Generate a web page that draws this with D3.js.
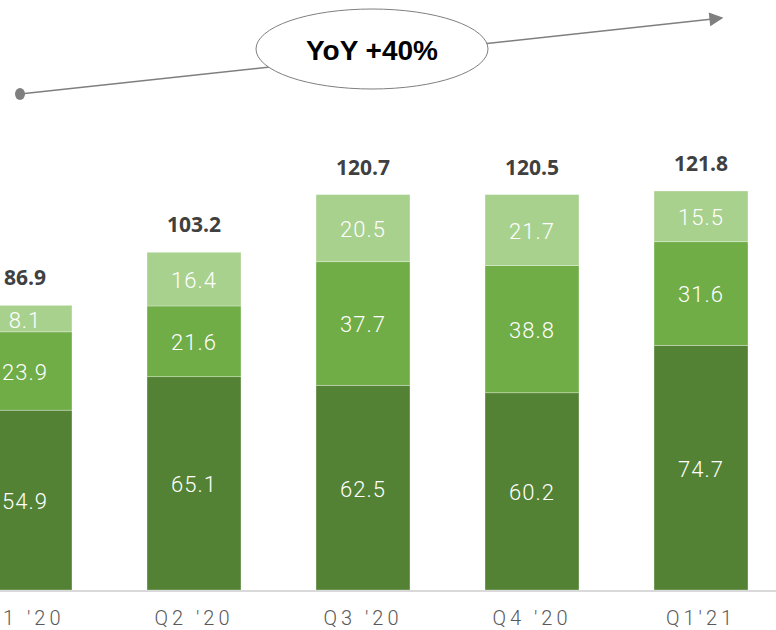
<!DOCTYPE html>
<html>
<head>
<meta charset="utf-8">
<script src="https://cdn.jsdelivr.net/npm/d3@7"></script>
<style>
  body { margin: 0; background: #fff; }
  svg { display: block; }
</style>
</head>
<body>
<div id="chart"></div>
<script>
// chart data
var categories = ["Q1 '20", "Q2 '20", "Q3 '20", "Q4 '20", "Q1'21"];
var bottomValues = [54.9, 65.1, 62.5, 60.2, 74.7];
var middleValues = [23.9, 21.6, 37.7, 38.8, 31.6];
var topValues = [8.1, 16.4, 20.5, 21.7, 15.5];
var totals = [86.9, 103.2, 120.7, 120.5, 121.8];
var yoyLabel = 'YoY +40%';

var width = 776;
var height = 630;
var baseline = 590;
var colors = ['#548235', '#70ad47', '#a9d18e'];

var svg = d3.select('#chart').append('svg')
    .attr('width', width)
    .attr('height', height);

var x = d3.scaleBand()
    .domain(categories)
    .range([-59.5, 785.5])
    .paddingInner(0.444)
    .paddingOuter(0.222);

var y = d3.scaleLinear()
    .domain([0, 121.8])
    .range([baseline, 191]);

var rows = categories.map(function(c, i) {
    return { cat: c, b: bottomValues[i], m: middleValues[i], t: topValues[i] };
});

var stack = d3.stack().keys(['b', 'm', 't']);
var series = stack(rows);

var layers = svg.append('g').selectAll('g')
    .data(series)
    .enter()
    .append('g')
    .attr('fill', function(d, i) { return colors[i]; });

layers.selectAll('rect')
    .data(function(d) { return d; })
    .enter()
    .append('rect')
    .attr('x', function(d) { return x(d.data.cat); })
    .attr('y', function(d) { return y(d[1]); })
    .attr('width', x.bandwidth())
    .attr('height', function(d) { return y(d[0]) - y(d[1]); })
    .style('stroke', '#ffffff')
    .style('stroke-width', 0.6)
    .style('stroke-opacity', 0.5);

// segment value labels
layers.selectAll('text')
    .data(function(d) { return d; })
    .enter()
    .append('text')
    .attr('x', function(d) { return x(d.data.cat) + x.bandwidth() / 2; })
    .attr('y', function(d) { return (y(d[0]) + y(d[1])) / 2 + 1; })
    .attr('dy', '0.36em')
    .attr('text-anchor', 'middle')
    .style('font-family', 'Roboto, sans-serif')
    .style('font-weight', 300)
    .style('font-size', '22px')
    .style('letter-spacing', '1px')
    .style('fill', '#ffffff')
    .text(function(d) { return (d[1] - d[0]).toFixed(1); });

// totals
svg.append('g').selectAll('text')
    .data(totals)
    .enter()
    .append('text')
    .attr('x', function(d, i) { return x(categories[i]) + x.bandwidth() / 2; })
    .attr('y', function(d) { return y(d) - 20; })
    .attr('text-anchor', 'middle')
    .style('font-family', '"Open Sans", sans-serif')
    .style('font-weight', 700)
    .style('font-size', '21px')
    .style('fill', '#404040')
    .text(function(d) { return d.toFixed(1); });

// axis
var xAxis = svg.append('g')
    .attr('transform', 'translate(0,' + baseline + ')')
    .call(d3.axisBottom(x).tickSize(0).tickPadding(21));

xAxis.select('.domain').remove();
svg.append('line')
    .attr('x1', 0).attr('x2', width)
    .attr('y1', baseline + 1).attr('y2', baseline + 1)
    .style('stroke', '#d9d9d9')
    .style('stroke-width', 2);

xAxis.selectAll('text')
    .style('font-family', 'Roboto, sans-serif')
    .style('font-weight', 300)
    .style('font-size', '20px')
    .style('letter-spacing', '4px')
    .style('fill', '#595959');

// YoY arrow
var defs = svg.append('defs');
defs.append('marker')
    .attr('id', 'arrowhead')
    .attr('viewBox', '0 0 10 10')
    .attr('refX', 9)
    .attr('refY', 5)
    .attr('markerWidth', 16)
    .attr('markerHeight', 14)
    .attr('markerUnits', 'userSpaceOnUse')
    .attr('orient', 'auto')
    .append('path')
    .attr('d', 'M0,0 L10,5 L0,10 z')
    .attr('fill', '#7f7f7f');

svg.append('line')
    .attr('x1', 20).attr('y1', 94)
    .attr('x2', 722).attr('y2', 18)
    .style('stroke', '#7f7f7f')
    .style('stroke-width', 1.5)
    .attr('marker-end', 'url(#arrowhead)');

svg.append('ellipse')
    .attr('cx', 20).attr('cy', 94)
    .attr('rx', 5).attr('ry', 6)
    .style('fill', '#7f7f7f');

svg.append('ellipse')
    .attr('cx', 372).attr('cy', 49)
    .attr('rx', 116).attr('ry', 40)
    .style('fill', '#ffffff')
    .style('stroke', '#7f7f7f')
    .style('stroke-width', 1);

svg.append('text')
    .attr('x', 372).attr('y', 50)
    .attr('dy', '0.35em')
    .attr('text-anchor', 'middle')
    .style('font-family', '"Liberation Sans", Arial, sans-serif')
    .style('font-weight', 700)
    .style('font-size', '28px')
    .style('fill', '#000000')
    .text(yoyLabel);
</script>
</body>
</html>
